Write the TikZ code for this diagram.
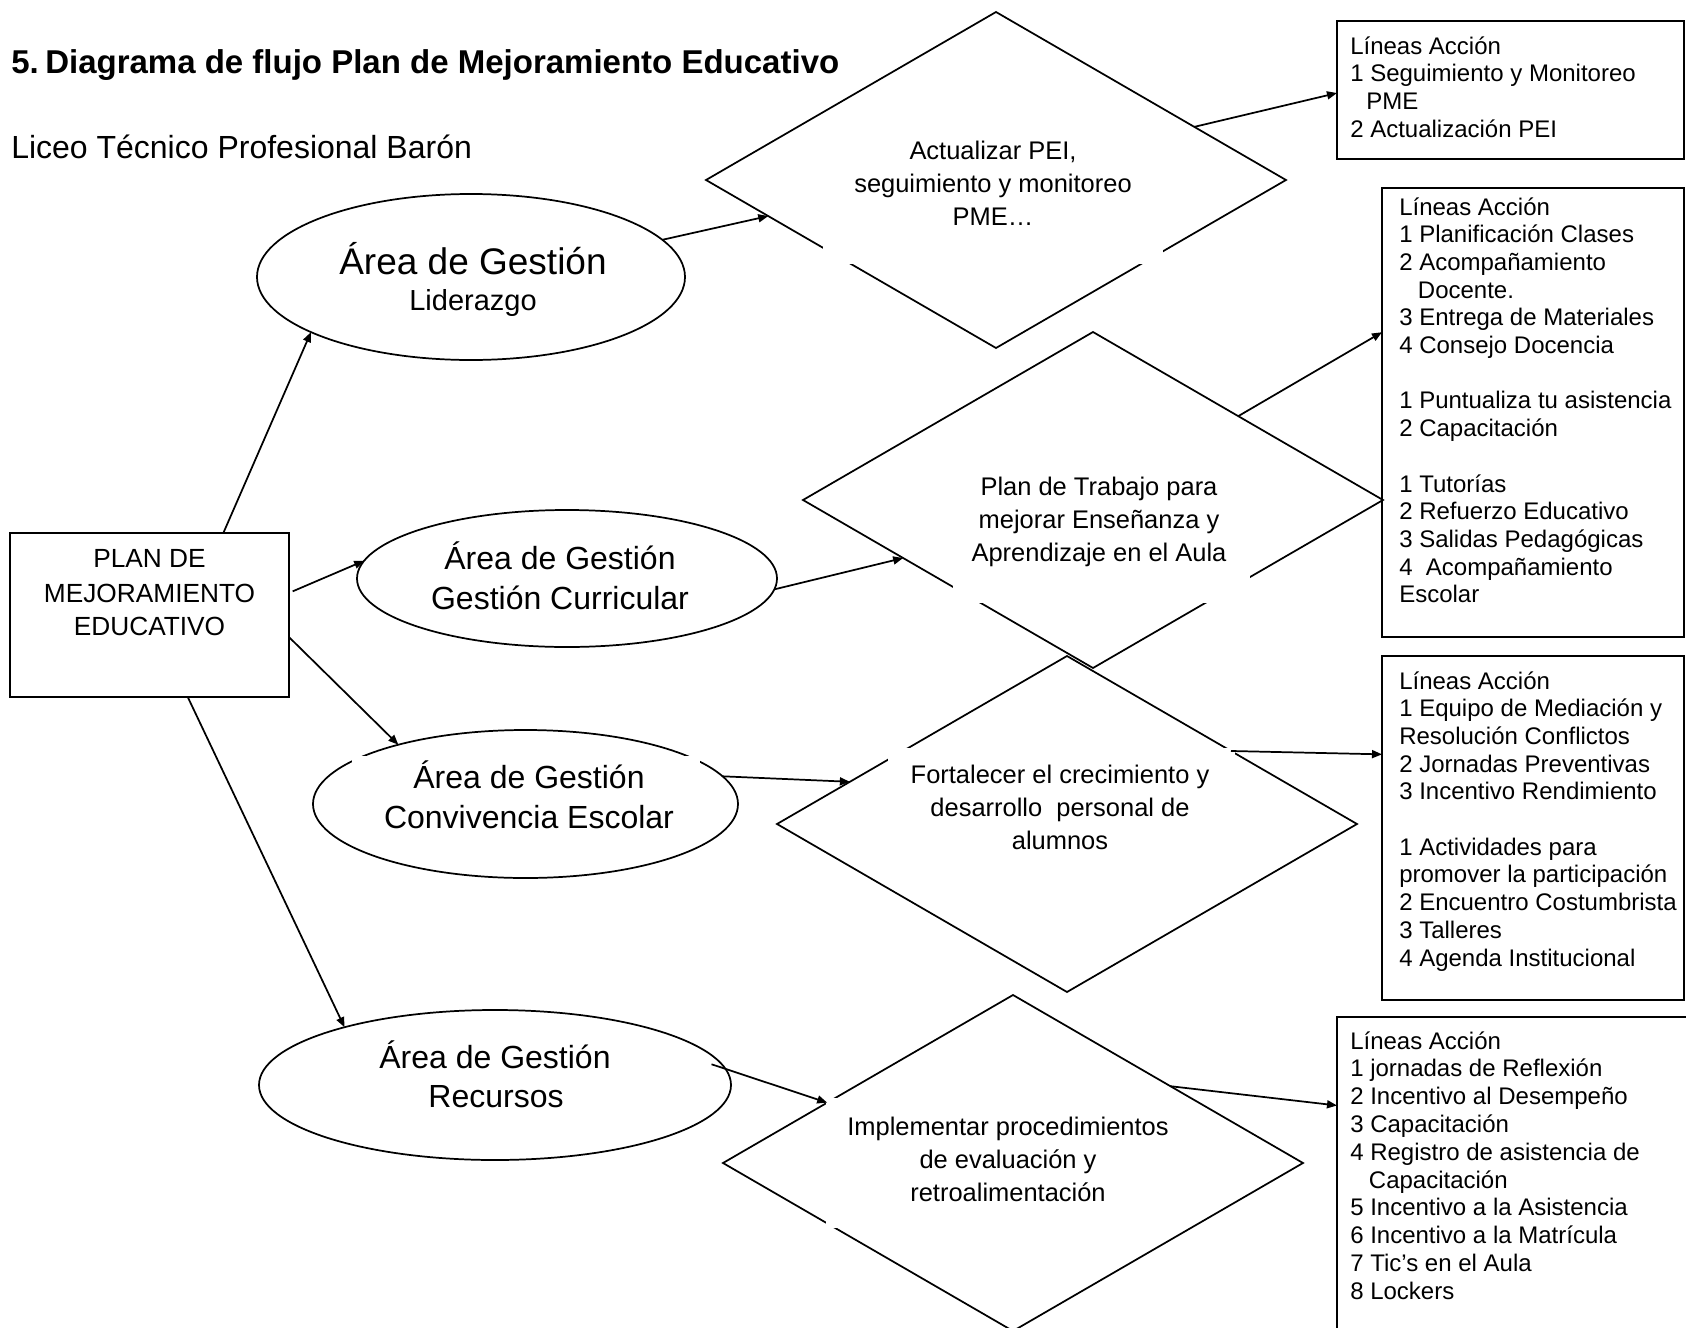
\documentclass[tikz,border=0pt]{standalone}
\usepackage{fontspec}
\setmainfont{Liberation Sans}
\usetikzlibrary{shapes.geometric,arrows.meta}
\tikzset{
  ln/.style={line width=1.3pt},
  ell/.style={ellipse, draw, ln, inner sep=0pt, outer sep=0pt},
  dia/.style={diamond, draw, ln, inner sep=0pt, outer sep=0pt, minimum width=435pt, minimum height=252pt},
  rbox/.style={rectangle, draw, ln, inner sep=0pt, outer sep=0pt},
  arr/.style={ln, -{Triangle[length=7.5pt,width=6pt]}},
  btxt/.style={anchor=base west, inner sep=0pt, font=\fontsize{18pt}{20pt}\selectfont},
  dtxt/.style={anchor=base, inner sep=0pt, font=\fontsize{19.1pt}{22pt}\selectfont},
  etxt/.style={anchor=base, inner sep=0pt, font=\fontsize{24pt}{28pt}\selectfont},
  ptxt/.style={anchor=base, inner sep=0pt, font=\fontsize{19.7pt}{22pt}\selectfont},
  gapfill/.style={fill=white},
}
\begin{document}
\begin{tikzpicture}[x=0.75pt, y=-0.75pt]
\useasboundingbox (0,0) rectangle (1686,1328);
\clip (0,0) rectangle (1686,1328);

% heading
\node[anchor=base west, inner sep=0pt, font=\bfseries\fontsize{24.75pt}{28pt}\selectfont] (title) at (11,73)
  {\makebox[25.5pt][l]{5.}Diagrama de flujo Plan de Mejoramiento Educativo};
\node[anchor=base west, inner sep=0pt, font=\fontsize{24pt}{28pt}\selectfont] (liceo) at (11,158)
  {Liceo Técnico Profesional Barón};

% main box
\node[rbox, minimum width=209.25pt, minimum height=123pt] (plan) at (149.5,615) {};

% ellipses
\node[ell, minimum width=321pt, minimum height=124.5pt] (lid) at (471,277) {};
\node[ell, minimum width=315pt, minimum height=102.75pt] (cur) at (567,578.5) {};
\node[ell, minimum width=318.75pt, minimum height=111pt] (conv) at (525.5,804) {};
\node[ell, minimum width=354pt, minimum height=112.5pt] (rec) at (495,1085) {};

% diamonds
\node[dia] (d1) at (996,180) {};
\node[dia] (d2) at (1093,500) {};
\node[dia] (d3) at (1067,824) {};
\node[dia] (d4) at (1013,1163) {};

% action boxes
\node[rbox, minimum width=260.25pt, minimum height=103.5pt] (b1) at (1510.5,90) {};
\node[rbox, minimum width=226.5pt, minimum height=336.75pt] (b2) at (1533,412.5) {};
\node[rbox, minimum width=226.5pt, minimum height=258pt] (b3) at (1533,828) {};
\node[rbox, minimum width=279.75pt, minimum height=257.25pt] (b4) at (1523.5,1188.5) {};

% white text boxes that interrupt outlines
\fill[gapfill] (823,120) rectangle (1163,264);
\fill[gapfill] (953,430) rectangle (1250,603);
\fill[gapfill] (888,748) rectangle (1235,870);
\fill[gapfill] (826,1098) rectangle (1188,1228);
\fill[gapfill] (352,756) rectangle (700,838);

% texts
\node[ptxt] (pt1) at (149.5,567) {PLAN DE};
\node[ptxt] (pt2) at (149.5,602) {MEJORAMIENTO};
\node[ptxt] (pt3) at (149.5,635) {EDUCATIVO};

\node[etxt, font=\fontsize{27.75pt}{30pt}\selectfont] (lidt1) at (473,274) {Área de Gestión};
\node[etxt, font=\fontsize{21.75pt}{24pt}\selectfont] (lidt2) at (473,310) {Liderazgo};
\node[etxt] (curt1) at (560,569) {Área de Gestión};
\node[etxt] (curt2) at (560,609) {Gestión Curricular};
\node[etxt] (convt1) at (529,788) {Área de Gestión};
\node[etxt] (convt2) at (529,828) {Convivencia Escolar};
\node[etxt] (rect1) at (495,1068) {Área de Gestión};
\node[etxt] (rect2) at (496,1107) {Recursos};

\foreach \t [count=\i from 0] in {{Actualizar PEI,},{seguimiento y monitoreo},{PME…}}
  \node[dtxt] (d1t\i) at (993,{159+33*\i}) {\t};
\foreach \t [count=\i from 0] in {{Plan de Trabajo para},{mejorar Enseñanza y},{Aprendizaje en el Aula}}
  \node[dtxt] (d2t\i) at (1099,{495+33*\i}) {\t};
\foreach \t [count=\i from 0] in {{Fortalecer el crecimiento y},{desarrollo\ \ personal de},{alumnos}}
  \node[dtxt] (d3t\i) at (1060,{783+33*\i}) {\t};
\foreach \t [count=\i from 0] in {{Implementar procedimientos},{de evaluación y},{retroalimentación}}
  \node[dtxt] (d4t\i) at (1008,{1135+33*\i}) {\t};

\foreach \t [count=\i from 0] in {{Líneas Acción},{1 Seguimiento y Monitoreo},{\hspace*{12pt}PME},{2 Actualización PEI}}
  \node[btxt] (b1t\i) at (1350,{54+27.7*\i}) {\t};
\foreach \t [count=\i from 0] in {{Líneas Acción},{1 Planificación Clases},{2 Acompañamiento},{\hspace*{14pt}Docente.},{3 Entrega de Materiales},{4 Consejo Docencia},{},{1 Puntualiza tu asistencia},{2 Capacitación},{},{1 Tutorías},{2 Refuerzo Educativo},{3 Salidas Pedagógicas},{4\ \ Acompañamiento},{Escolar}}
  \node[btxt] (b2t\i) at (1399,{215+27.7*\i}) {\t};
\foreach \t [count=\i from 0] in {{Líneas Acción},{1 Equipo de Mediación y},{Resolución Conflictos},{2 Jornadas Preventivas},{3 Incentivo Rendimiento},{},{1 Actividades para},{promover la participación},{2 Encuentro Costumbrista},{3 Talleres},{4 Agenda Institucional}}
  \node[btxt] (b3t\i) at (1399,{689+27.7*\i}) {\t};
\foreach \t [count=\i from 0] in {{Líneas Acción},{1 jornadas de Reflexión},{2 Incentivo al Desempeño},{3 Capacitación},{4 Registro de asistencia de},{\hspace*{14pt}Capacitación},{5 Incentivo a la Asistencia},{6 Incentivo a la Matrícula},{7 Tic's en el Aula},{8 Lockers}}
  \node[btxt] (b4t\i) at (1350,{1049+27.8*\i}) {\t};

% connectors
\draw[arr] (plan.48.1) -- (lid.199.5);
\draw[arr, shorten <=3pt] (plan.9.9) -- (cur.175.4);
\draw[arr] (plan.351.9) -- (conv.155.9);
\draw[arr] (plan.295.2) -- (rec.159.7);
\draw[arr] (lid.11.1) -- (d1.189.7);
\draw[arr] (d1.15.8) -- (b1.181);
\draw[arr] (cur.357.1) -- (d2.197.7);
\draw[arr] (d2.30.6) -- (b2.152.2);
\draw[arr] (conv.8.4) -- (d3.169.3);
\draw[arr] (d3.24.6) -- (b3.154.5);
\draw[arr, shorten <=-11pt] (rec.4.8) -- (d4.162.6);
\draw[arr] (d4.26.9) -- (b4.156.1);
\end{tikzpicture}
\end{document}
